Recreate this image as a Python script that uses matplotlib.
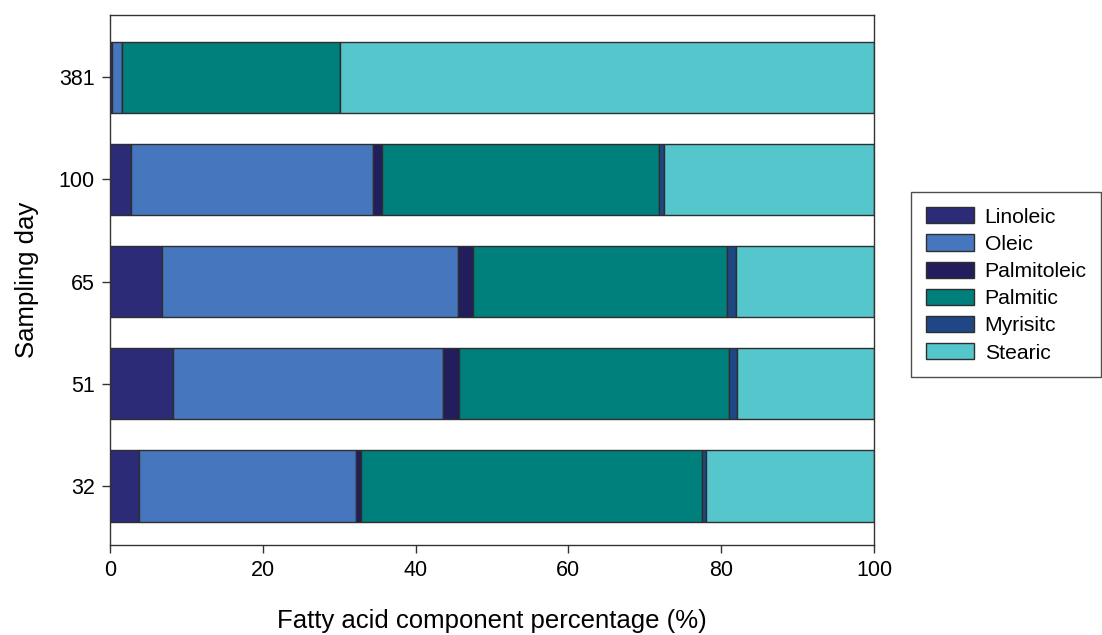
import matplotlib
matplotlib.use("Agg")
import matplotlib.pyplot as plt
import numpy as np

# Fatty acid composition (%) per sampling day
days = ["32", "51", "65", "100", "381"]
components = ["Linoleic", "Oleic", "Palmitoleic", "Palmitic", "Myrisitc", "Stearic"]
linoleic    = [3.75, 8.2, 6.8, 2.7, 0.2]
oleic       = [28.45, 35.4, 38.7, 31.7, 1.4]
palmitoleic = [0.7, 2.1, 2.0, 1.2, 0.0]
palmitic    = [44.6, 35.3, 33.3, 36.3, 28.5]
myristic    = [0.55, 1.1, 1.1, 0.6, 0.0]
stearic     = [21.95, 17.9, 18.1, 27.5, 69.9]

series = [linoleic, oleic, palmitoleic, palmitic, myristic, stearic]
colors = ["#2b2b78", "#4677be", "#221d5c", "#00807d", "#1f4785", "#55c6cc"]

plt.rcParams["font.family"] = ["Liberation Sans", "DejaVu Sans"]

fig = plt.figure(figsize=(11.02, 6.35), dpi=100)
ax = fig.add_axes([0.0998, 0.1417, 0.6933, 0.8347])

y = np.arange(len(days))
left = np.zeros(len(days))
for name, vals, col in zip(components, series, colors):
    vals = np.array(vals)
    ax.barh(y, vals, left=left, height=0.70, color=col, edgecolor="#2e2e2e",
            linewidth=1.0, label=name)
    left += vals

ax.set_xlim(0, 100)
ax.set_ylim(-0.58, 4.61)
ax.set_yticks(y)
ax.set_yticklabels(days)
ax.set_xticks([0, 20, 40, 60, 80, 100])
ax.tick_params(axis="both", direction="out", labelsize=15.5, length=6, width=1,
               color="#333333", pad=5)
for s in ax.spines.values():
    s.set_color("#333333")
    s.set_linewidth(1.0)

ax.set_xlabel("Fatty acid component percentage (%)", fontsize=18.5, labelpad=20)
ax.set_ylabel("Sampling day", fontsize=18.5, labelpad=14)

leg = ax.legend(loc="upper left", bbox_to_anchor=(0.8265, 0.697),
                bbox_transform=fig.transFigure, borderaxespad=0,
                frameon=True, fancybox=False, fontsize=15.2,
                handlelength=2.3, handleheight=0.8, labelspacing=0.37,
                borderpad=0.7, handletextpad=0.5)
leg.get_frame().set_edgecolor("#222222")
leg.get_frame().set_linewidth(1.0)

fig.savefig("out.png", dpi=100)
